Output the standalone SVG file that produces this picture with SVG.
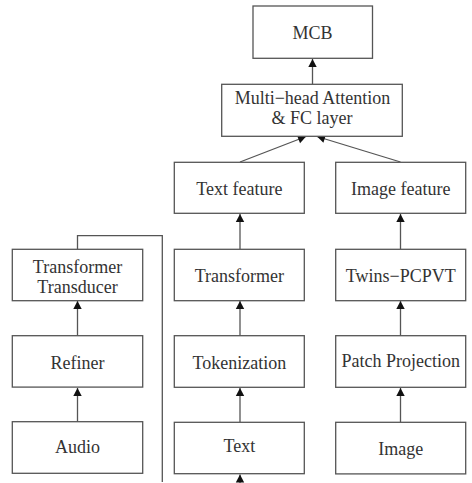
<svg xmlns="http://www.w3.org/2000/svg" width="472" height="483" viewBox="0 0 472 483">
<defs>
<style>
.box{fill:#fff;stroke:#555;stroke-width:1.3}
.t{font-family:"Liberation Serif","Times New Roman",serif;font-size:18px;fill:#333;text-anchor:middle}
.c{fill:none;stroke:#555;stroke-width:1.3}
</style>
<marker id="ah" markerUnits="userSpaceOnUse" markerWidth="10" markerHeight="10" viewBox="0 0 10 10" refX="9" refY="5" orient="auto">
<path d="M1,0.8 L9,5 L1,9.2 Z" fill="#111"/>
</marker>
</defs>
<rect width="472" height="483" fill="#fff"/>
<g id="connectors">
<path class="c" d="M312.5,84 V59" marker-end="url(#ah)"/>
<path class="c" d="M240,162 L306,136.5" marker-end="url(#ah)"/>
<path class="c" d="M400.5,162 L317,136.5" marker-end="url(#ah)"/>
<path class="c" d="M240,249 V214" marker-end="url(#ah)"/>
<path class="c" d="M240,336 V301" marker-end="url(#ah)"/>
<path class="c" d="M240,422 V388" marker-end="url(#ah)"/>
<path class="c" d="M240,483 V474.5" marker-end="url(#ah)"/>
<path class="c" d="M400.5,249 V214" marker-end="url(#ah)"/>
<path class="c" d="M400.5,336 V301" marker-end="url(#ah)"/>
<path class="c" d="M400.5,422 V388" marker-end="url(#ah)"/>
<path class="c" d="M77.5,336 V301" marker-end="url(#ah)"/>
<path class="c" d="M77.5,422 V388" marker-end="url(#ah)"/>
<path class="c" d="M77.5,249 V235.7 H162.3 V482"/>
</g>
<g id="mcb"><rect class="box" x="253" y="6" width="119.5" height="52.3"/><text class="t" x="312.5" y="38.5">MCB</text></g>
<g id="mha"><rect class="box" x="221.7" y="84.3" width="180.6" height="52"/><text class="t" x="312.5" y="104">Multi−head Attention</text><text class="t" x="312" y="123.5">&amp; FC layer</text></g>
<g id="textfeature"><rect class="box" x="174.3" y="162.3" width="130" height="51"/><text class="t" x="239.3" y="195">Text feature</text></g>
<g id="imagefeature"><rect class="box" x="335.7" y="162.3" width="130" height="51"/><text class="t" x="400.7" y="195">Image feature</text></g>
<g id="tt"><rect class="box" x="12.3" y="249.3" width="130.4" height="51.4"/><text class="t" x="77.5" y="272.5">Transformer</text><text class="t" x="77.5" y="292.7">Transducer</text></g>
<g id="transformer"><rect class="box" x="174.3" y="249.3" width="130" height="51.4"/><text class="t" x="239.3" y="281.7">Transformer</text></g>
<g id="twins"><rect class="box" x="335.7" y="249.3" width="130" height="51.4"/><text class="t" x="400.7" y="281.7">Twins−PCPVT</text></g>
<g id="refiner"><rect class="box" x="12.3" y="335.7" width="130.4" height="51.4"/><text class="t" x="77.5" y="368.5">Refiner</text></g>
<g id="tokenization"><rect class="box" x="174.3" y="335.7" width="130" height="51.6"/><text class="t" x="239.3" y="369.3">Tokenization</text></g>
<g id="patch"><rect class="box" x="335.7" y="335.7" width="130" height="51.6"/><text class="t" x="400.7" y="366.7">Patch Projection</text></g>
<g id="audio"><rect class="box" x="12.3" y="421.7" width="130.4" height="51.6"/><text class="t" x="77.5" y="453.3">Audio</text></g>
<g id="text"><rect class="box" x="174.3" y="422.3" width="130" height="51.4"/><text class="t" x="239.3" y="451.7">Text</text></g>
<g id="image"><rect class="box" x="335.7" y="422.3" width="130" height="51.6"/><text class="t" x="400.7" y="455">Image</text></g>
</svg>
